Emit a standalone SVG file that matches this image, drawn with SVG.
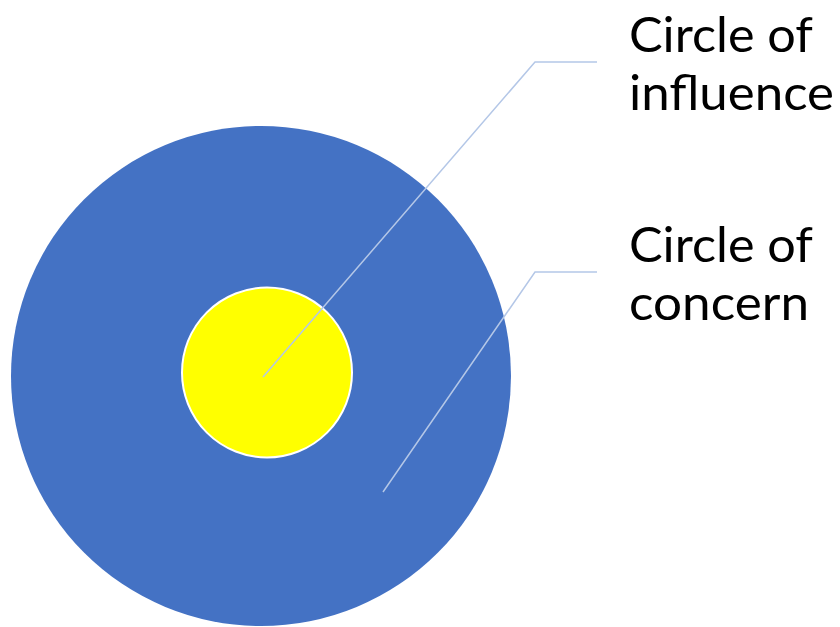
<svg xmlns="http://www.w3.org/2000/svg" width="840" height="627" viewBox="0 0 840 627">
  <style>
    .label { font-family: Lato, "Open Sans", "Liberation Sans", sans-serif; font-size: 48px; fill: #000000; }
    .leader { fill: none; stroke: #b4c7e7; stroke-width: 1.5; }
  </style>
  <rect width="840" height="627" fill="#ffffff"/>
  <g id="circle-of-concern">
    <circle cx="261" cy="376" r="250" fill="#4472c4"/>
  </g>
  <g id="circle-of-influence">
    <circle cx="267" cy="372.5" r="85" fill="#ffff00" stroke="#ffffff" stroke-width="2"/>
  </g>
  <g id="connectors">
    <polyline class="leader" points="263,377 535,62 597,62"/>
    <polyline class="leader" points="383,492 535,272 597,272"/>
  </g>
  <g id="label-influence">
    <text class="label"><tspan x="629" y="52" textLength="184" lengthAdjust="spacingAndGlyphs">Circle of</tspan><tspan x="629" y="110" textLength="205" lengthAdjust="spacingAndGlyphs">influence</tspan></text>
  </g>
  <g id="label-concern">
    <text class="label"><tspan x="629" y="262" textLength="184" lengthAdjust="spacingAndGlyphs">Circle of</tspan><tspan x="629" y="320" textLength="180" lengthAdjust="spacingAndGlyphs">concern</tspan></text>
  </g>
</svg>
